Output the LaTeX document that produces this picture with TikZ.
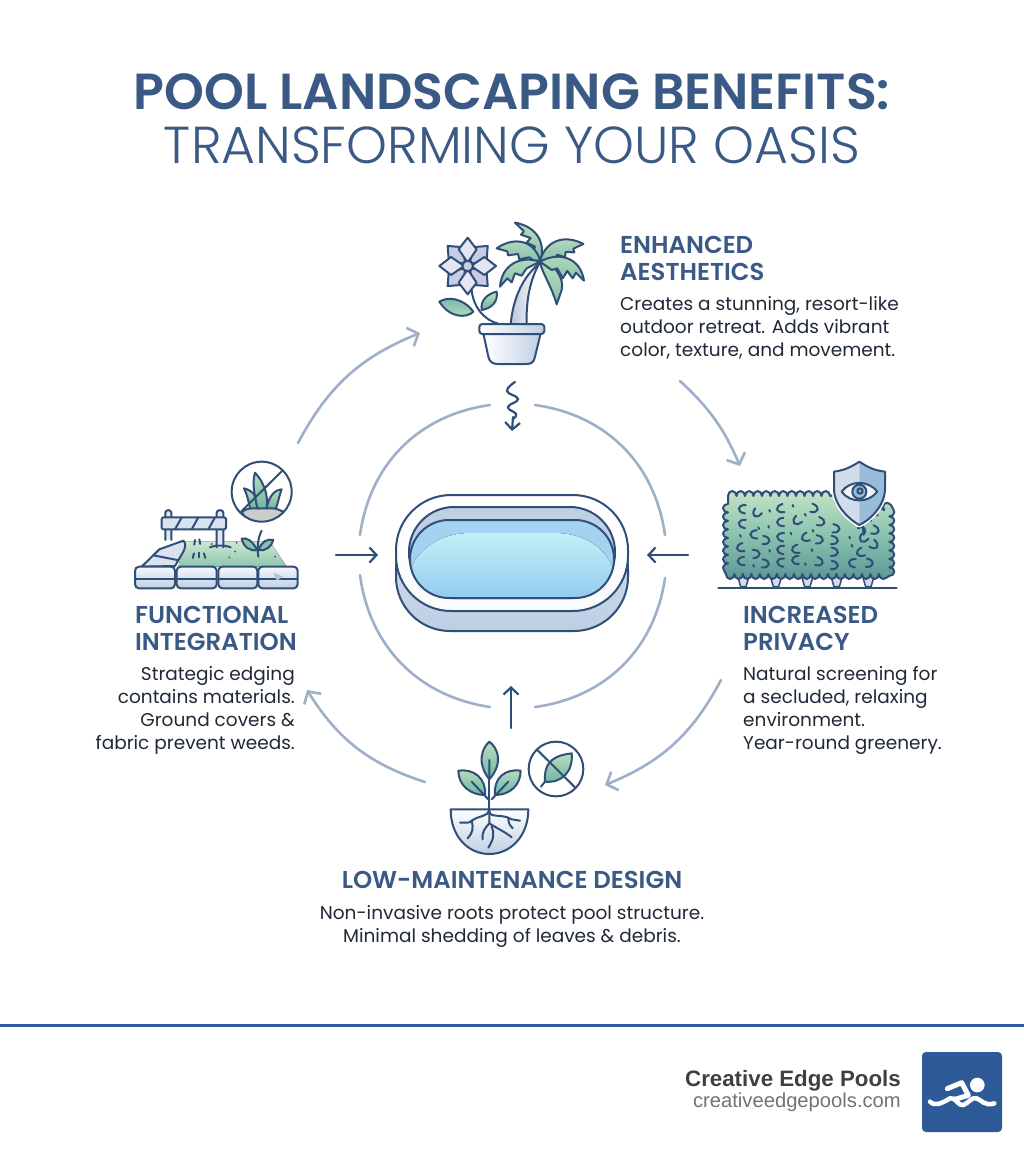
\documentclass[tikz,border=0pt]{standalone}
\usepackage{fontspec}
\usetikzlibrary{arrows.meta,decorations.pathmorphing}
\setmainfont{Poppins}
\newfontfamily\lightf{Poppins Light}
\newfontfamily\boldf{Poppins}[UprightFont=* SemiBold]
\newfontfamily\footf{Liberation Sans}
\definecolor{ink}{HTML}{2F4F78}
\definecolor{titlec}{HTML}{3A5A85}
\definecolor{ringc}{HTML}{9DB0C8}
\definecolor{bodyc}{HTML}{1F2937}
\definecolor{leafa}{HTML}{BBDDBC}
\definecolor{leafb}{HTML}{6FB5A6}
\definecolor{petal}{HTML}{C9CCE4}
\definecolor{petalb}{HTML}{E6E6F2}
\definecolor{brand}{HTML}{2F5A98}
\definecolor{waterb}{HTML}{93CBEF}
\definecolor{waterc}{HTML}{C4EFF8}
\definecolor{wall}{HTML}{BFCFE4}
\tikzset{
  ol/.style={draw=ink,line width=2pt,line join=round,line cap=round},
  ringline/.style={draw=ringc,line width=2.6pt,line cap=round},
  tipline/.style={draw=ringc,line width=2.6pt,line cap=round,-{Straight Barb[length=9pt,width=20pt,line width=2.6pt]}},
  inkarrow/.style={draw=ink,line width=2.2pt,line cap=round,-{Straight Barb[length=7pt,width=15pt,line width=2.2pt]}},
  headt/.style={inner sep=0,text=titlec,font=\boldf\fontsize{24.4}{26.6}\selectfont},
  bodyt/.style={inner sep=0,text=bodyc,font=\fontsize{18.5}{23}\selectfont},
  hleaf/.style={draw=ink,line width=2pt,line cap=round},
  palm/.style={ol,top color=leafa,bottom color=leafb!70!leafa},
  lleaf/.style={ol,top color=leafa,bottom color=leafb},
}
\begin{document}
\begin{tikzpicture}[x=1pt,y=-1pt]
\useasboundingbox (0,0) rectangle (1024,1154);
\fill[white] (0,0) rectangle (1024,1154);
% title
\node[inner sep=0,text=titlec,font=\boldf\fontsize{50.7}{54}\selectfont] (title1) at (512,92) {POOL LANDSCAPING BENEFITS:};
\node[inner sep=0,text=titlec,font=\lightf\fontsize{52}{56}\selectfont] (title2) at (512,145) {TRANSFORMING YOUR OASIS};
% inner ring
\coordinate (r1) at (490,405); \coordinate (r2) at (360,535);
\coordinate (r3) at (535,405); \coordinate (r4) at (665,535);
\coordinate (r5) at (360,575); \coordinate (r6) at (490,707);
\coordinate (r7) at (665,578); \coordinate (r8) at (535,707);
\draw[ringline] (r1) to[bend right=37] (r2);
\draw[ringline] (r3) to[bend left=37] (r4);
\draw[ringline] (r5) to[bend right=37] (r6);
\draw[ringline] (r7) to[bend left=37] (r8);
% outer arrows
\coordinate (o1) at (298,443); \coordinate (o2) at (420,333);
\coordinate (o3) at (680,381); \coordinate (o4) at (740,466);
\coordinate (o5) at (721,680); \coordinate (o6) at (605,785);
\coordinate (o7) at (425,782); \coordinate (o8) at (307,690);
\draw[tipline] (o1) to[bend left=20] (o2);
\draw[tipline] (o3) to[bend left=12] (o4);
\draw[tipline] (o5) to[bend left=20] (o6);
\draw[tipline] (o7) to[bend left=20] (o8);
% pool
\coordinate (pl) at (378,555); \coordinate (pr) at (647,555); \coordinate (pb) at (511,686);
\coordinate (al) at (336,555); \coordinate (ar) at (688,555); \coordinate (ab) at (511,728);
\coordinate (sa) at (513,417); \coordinate (sb) at (512,431);
\draw[inkarrow] (al) -- (pl);
\draw[inkarrow] (ar) -- (pr);
\draw[inkarrow] (ab) -- (pb);
\draw[ink,line width=2.2pt,line cap=round] plot[smooth,tension=0.8] coordinates {(515,382) (507,391) (518,399) (508,407) (516,414) (513,419)};
\draw[inkarrow] (sa) -- (sb);
\draw[ol,top color=wall!70!white,bottom color=wall,rounded corners=54pt] (396,515) rectangle (628,631);
\draw[ol,top color=white,bottom color=white!90!wall,rounded corners=55pt] (396,495) rectangle (628,611);
\draw[ol,fill=wall,rounded corners=45pt] (409,507) rectangle (615,598);
\begin{scope}
\clip[rounded corners=39pt] (410,520) rectangle (614,598);
\fill[waterb!85!white] (410,520) rectangle (614,598);
\fill[top color=waterc,bottom color=waterb] (410,598) -- (410,570) .. controls (420,545) and (445,533) .. (470,533) -- (555,533) .. controls (580,533) and (605,545) .. (614,570) -- (614,598) -- cycle;
\end{scope}
\draw[ol,rounded corners=39pt] (410,520) rectangle (614,598);
% --- plant icon
\begin{scope}[shift={(420,210)},scale=1/3]
 % flower
 \draw[ol] (155,240) .. controls (160,290) and (190,330) .. (238,342);
 \foreach \a in {45,135,225,315}{\draw[ol,fill=petal,rotate around={\a:(143,168)}] (143,158) -- (113,118) -- (143,83) -- (173,118) -- cycle;}
 \foreach \a in {0,90,180,270}{\draw[ol,fill=petalb,rotate around={\a:(143,168)}] (143,158) -- (116,118) -- (143,83) -- (170,118) -- cycle;}
 \draw[ol,fill=petal] (143,168) circle (16);
 \draw[ol,top color=leafb,bottom color=leafa] (160,305) .. controls (130,265) and (85,258) .. (58,275) .. controls (90,325) and (140,325) .. cycle;
 \draw[ol,top color=leafa,bottom color=leafb] (185,300) .. controls (180,270) and (205,250) .. (230,245) .. controls (235,275) and (215,295) .. cycle;
 % trunk
 \draw[ol,left color=ringc!70!white,right color=white] (272,342) .. controls (280,260) and (310,200) .. (358,160) .. controls (330,210) and (318,270) .. (320,342) -- cycle;
 % palm leaves
 \draw[palm] (360,155) .. controls (378,105) and (355,50) .. (285,38) -- (312,64) -- (303,74) -- (332,84) -- (320,98) -- (345,110) -- (338,125) -- cycle;
 \draw[palm] (360,152) .. controls (380,85) and (440,75) .. (490,102) -- (460,116) -- (463,127) -- (437,126) -- (435,142) -- (412,134) -- (402,150) -- cycle;
 \draw[palm] (360,150) .. controls (340,88) and (280,80) .. (230,115) -- (262,124) -- (264,136) -- (294,132) -- (298,148) -- (328,142) -- (345,155) -- cycle;
 \draw[palm] (360,155) .. controls (300,135) and (245,165) .. (240,230) -- (262,205) -- (275,217) -- (285,190) -- (305,197) -- (320,175) -- cycle;
 \draw[palm] (360,158) .. controls (370,195) and (395,230) .. (410,283) -- (425,240) .. controls (430,215) and (420,190) .. (395,165) -- cycle;
 \draw[palm] (360,155) .. controls (420,122) and (482,145) .. (492,212) -- (468,188) -- (458,205) -- (442,183) -- (428,205) -- (412,175) -- (395,180) -- cycle;
 % pot
 \draw[ol,left color=white,right color=wall] (190,370) -- (205,440) .. controls (208,455) and (218,462) .. (232,462) -- (320,462) .. controls (335,462) and (342,455) .. (345,440) -- (362,370) -- cycle;
 \draw[ol,left color=white,right color=wall,rounded corners=3pt] (178,342) rectangle (373,372);
\end{scope}
% --- hedge icon
\begin{scope}[shift={(700,390)},scale=1/3]
 \foreach \x in {130,228,322,410,505}{\draw[ol,line width=1.5pt,fill=wall!70!white] (\x-20,550) -- (\x-8,590) -- (\x+8,590) -- (\x+20,550) -- cycle;}
 \draw[ink,line width=2pt,line cap=round] (55,593) -- (590,593);
 \path[ol,top color=leafa!85!white,bottom color=leafb!70!ink,middle color=leafb!65!leafa,decorate,decoration={bumps,segment length=17pt,amplitude=5pt}] (84,318) -- (388,318) -- (478,420) -- (568,348) -- (568,552) -- (84,552) -- cycle;
 \foreach \x/\y/\r in {125/358/0,170/372/60,240/358/20,345/355/170,125/402/0,160/435/10,200/450/180,240/398/10,290/395/50,365/395/170,410/415/180,240/442/0,315/445/30,360/448/180,405/450/180,490/448/60,528/420/170,120/475/20,170/490/190,240/480/0,285/480/20,405/485/180,480/490/30,525/465/150,122/515/10,198/520/180,240/518/0,285/512/10,360/515/170,405/525/180,455/520/0,510/518/180}
  {\draw[hleaf,shift={(\x,\y)},rotate=\r,scale=1.25] (10,-10) .. controls (-10,-12) and (-14,6) .. (8,10);}
 \foreach \x/\y in {208/360,278/345,315/372,175/412,205/408,120/435,272/428,338/420,335/478,448/440,208/480,315/520,160/525,455/465}
  {\draw[hleaf] (\x,\y) -- ++(2,5);}
 % shield
 \path[draw=white,line width=5pt,fill=white,line join=round] (478,215) .. controls (440,240) and (420,242) .. (402,245) -- (402,300) .. controls (405,350) and (450,390) .. (478,405) .. controls (510,390) and (552,350) .. (555,300) -- (555,245) .. controls (535,242) and (515,240) .. (478,215) -- cycle;
 \fill[wall!70!white] (478,215) .. controls (440,240) and (420,242) .. (402,245) -- (402,300) .. controls (405,350) and (450,390) .. (478,405) -- cycle;
 \fill[ringc!55!waterb] (478,215) .. controls (515,240) and (535,242) .. (555,245) -- (555,300) .. controls (552,350) and (510,390) .. (478,405) -- cycle;
 \draw[ol] (478,215) .. controls (440,240) and (420,242) .. (402,245) -- (402,300) .. controls (405,350) and (450,390) .. (478,405) .. controls (510,390) and (552,350) .. (555,300) -- (555,245) .. controls (535,242) and (515,240) .. (478,215) -- cycle;
 \draw[ol,fill=white!80!wall] (425,305) .. controls (450,270) and (505,270) .. (532,305) .. controls (505,340) and (450,340) .. cycle;
 \draw[ol,fill=ringc!60!waterb] (478,305) circle (21);
 \draw[ol,fill=ringc] (480,303) circle (8);
\end{scope}
% --- functional icon
\begin{scope}[shift={(120,450)},scale=1/3]
 \fill[top color=leafa!70!white,bottom color=leafb!60!leafa] (195,275) -- (450,275) -- (500,350) -- (175,350) -- cycle;
 % no-sign
 \fill[white] (425,125) circle (90);
 \begin{scope}
  \clip (425,125) circle (88);
  \draw[ol,fill=gray!40] (365,185) .. controls (400,165) and (450,165) .. (490,185) -- (470,220) -- (385,220) -- cycle;
 \end{scope}
 \draw[ol,top color=leafa,bottom color=leafb] (372,115) .. controls (395,120) and (415,140) .. (420,175) -- (390,175) .. controls (385,150) and (380,130) .. (372,115) -- cycle;
 \draw[ol,top color=leafa,bottom color=leafb] (405,68) .. controls (435,100) and (445,140) .. (440,175) -- (412,175) .. controls (405,140) and (395,100) .. (405,68) -- cycle;
 \draw[ol,top color=leafa,bottom color=leafb] (485,118) .. controls (460,120) and (445,145) .. (440,175) -- (468,175) .. controls (475,155) and (478,135) .. (485,118) -- cycle;
 \draw[ol] (425,125) circle (90);
 \draw[ol] (363,185) -- (487,62);
 % barrier
 \draw[ol,fill=wall!50!white] (136,270) -- (136,188) .. controls (136,178) and (154,178) .. (154,188) -- (154,270);
 \draw[ol,fill=wall!50!white] (290,292) -- (290,188) .. controls (290,178) and (310,178) .. (310,188) -- (310,292);
 \draw[ol] (270,292) .. controls (285,285) and (315,285) .. (332,292);
 \draw[ol,fill=wall!60!white,rounded corners=1.5pt] (125,202) rectangle (318,238);
 \foreach \x in {165,215,265}{\draw[ink,line width=2pt] (\x,238) -- (\x+20,202);}
 % path stones
 \draw[ol,fill=wall!60!white] (118,298) -- (190,272) .. controls (200,280) and (195,295) .. (190,305) -- (165,348) -- (65,350) -- cycle;
 \draw[ol] (100,316) -- (172,330);
 % tufts
 \foreach \x/\y/\r in {225/270/-10,238/268/10,222/310/-15,237/308/0,252/310/15}{\draw[hleaf,shift={(\x,\y)},rotate=\r] (0,0) -- (0,14);}
 \foreach \x/\y in {328/322,345/305,465/320,275/282,350/278}{\fill[ink] (\x,\y) circle (3);}
 % sprout
 \draw[ol] (415,320) .. controls (410,290) and (415,260) .. (425,242);
 \draw[ol,fill=leafb!70!leafa] (412,300) .. controls (395,270) and (380,262) .. (365,266) .. controls (370,290) and (390,305) .. cycle;
 \draw[ol,fill=leafb!70!leafa] (416,300) .. controls (425,275) and (440,265) .. (460,270) .. controls (455,290) and (435,305) .. cycle;
 % front stones
 \foreach \a/\b in {45/165,170/290,295/412,415/533}{
  \draw[ol,top color=white!85!wall,bottom color=wall,rounded corners=4pt] (\a,350) rectangle (\b,415);
  \draw[ol] (\a+3,388) -- (\b-3,388);
 }
 \fill[wall!60!ringc] (460,368) -- (490,380) -- (470,392) -- cycle;
\end{scope}
% --- low-maintenance icon
\begin{scope}[shift={(430,700)},scale=1/3]
 \draw[ol,top color=white,bottom color=wall] (62,328) -- (295,328) .. controls (295,410) and (240,462) .. (178,462) .. controls (115,462) and (62,410) .. (62,328) -- cycle;
 \draw[ol] (178,235) -- (178,330);
 \draw[ol,top color=leafa,bottom color=leafb] (178,125) .. controls (155,145) and (140,190) .. (178,238) .. controls (220,190) and (205,145) .. (178,125) -- cycle;
 \draw[ol,top color=leafa,bottom color=leafb] (85,212) .. controls (130,205) and (170,235) .. (165,285) .. controls (120,285) and (85,255) .. (85,212) -- cycle;
 \draw[ol,top color=leafa,bottom color=leafb] (272,212) .. controls (225,205) and (190,235) .. (195,285) .. controls (240,285) and (272,255) .. (272,212) -- cycle;
 \draw[ol] (178,180) -- (178,230) (125,245) -- (175,298) (235,245) -- (185,298);
 \draw[ol] (178,330) .. controls (175,350) and (150,345) .. (125,362) .. controls (120,370) and (105,368) .. (90,368);
 \draw[ol] (125,362) .. controls (130,385) and (130,395) .. (113,415);
 \draw[ol] (178,335) .. controls (182,355) and (215,340) .. (245,358) -- (270,362);
 \draw[ol] (235,355) .. controls (235,370) and (240,378) .. (248,385);
 \draw[ol] (178,330) -- (178,370) .. controls (165,385) and (155,395) .. (158,418);
 \draw[ol] (178,370) .. controls (200,385) and (225,395) .. (245,412);
 \draw[ol] (185,380) .. controls (195,400) and (190,420) .. (175,443);
 \draw[ol,top color=leafa,bottom color=leafb] (425,160) .. controls (380,165) and (340,180) .. (345,245) .. controls (395,250) and (430,215) .. (425,160) -- cycle;
 \draw[ol] (345,245) -- (333,260);
 \draw[ol] (378,207) circle (82);
 \draw[ol] (322,150) -- (435,262);
\end{scope}
% texts
\node[headt,anchor=north west,align=left] (h1) at (620,236) {ENHANCED\\AESTHETICS};
\node[bodyt,anchor=north west,align=left] (b1) at (620,296) {Creates a stunning, resort-like\\outdoor retreat. Adds vibrant\\color, texture, and movement.};
\node[headt,anchor=north west,align=left] (h2) at (743,606) {INCREASED\\PRIVACY};
\node[bodyt,anchor=north west,align=left] (b2) at (743,666.5) {Natural screening for\\a secluded, relaxing\\environment.\\Year-round greenery.};
\node[headt,anchor=north west,align=left] (h3) at (135,606) {FUNCTIONAL\\INTEGRATION};
\node[bodyt,anchor=north east,align=right] (b3) at (295,666.5) {Strategic edging\\contains materials.\\Ground covers \&\\fabric prevent weeds.};
\node[headt] (h4) at (512,880) {LOW-MAINTENANCE DESIGN};
\node[bodyt,align=center,anchor=north] (b4) at (512,905) {Non-invasive roots protect pool structure.\\Minimal shedding of leaves \& debris.};
% footer
\fill[brand] (0,1023.5) rectangle (1024,1026.5);
\node[inner sep=0,anchor=base east,text=black!75,font=\footf\bfseries\fontsize{22.3}{26}\selectfont] (f1) at (901,1086) {Creative Edge Pools};
\node[inner sep=0,anchor=base east,text=black!55,font=\footf\fontsize{20.2}{24}\selectfont] (f2) at (901,1107) {creativeedgepools.com};
\fill[brand,rounded corners=4pt] (922,1052) rectangle (1002,1132);
\begin{scope}[shift={(660,1010)},scale=1/3]
 \fill[white] (952,225) circle (22);
 \draw[white,line width=5pt,line join=round,line cap=round] (862,236) -- (905,218) -- (925,256) -- (885,268);
 \draw[white,line width=4.5pt,line cap=round] (810,275) .. controls (825,290) and (845,280) .. (870,265) .. controls (885,258) and (895,290) .. (910,285) .. controls (925,280) and (935,260) .. (950,265) .. controls (965,270) and (975,290) .. (1003,280);
\end{scope}
\end{tikzpicture}
\end{document}
